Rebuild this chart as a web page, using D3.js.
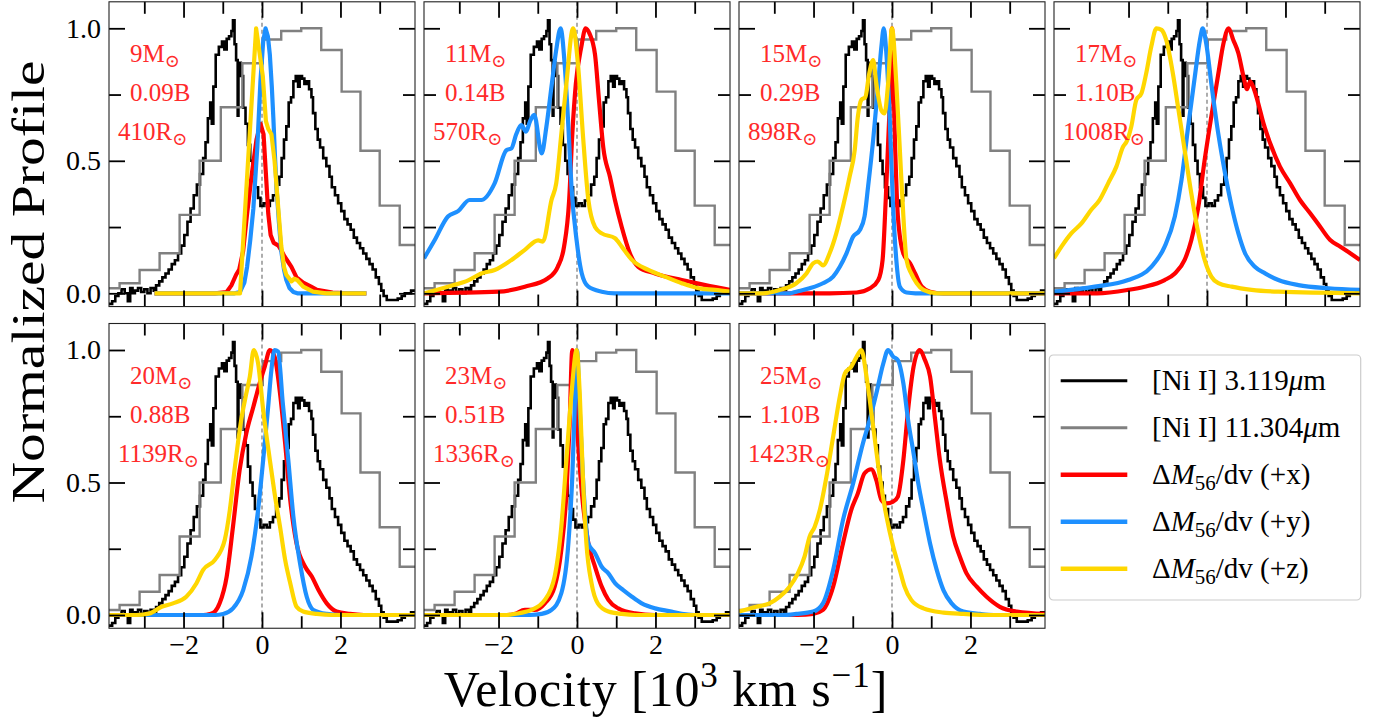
<!DOCTYPE html>
<html>
<head>
<meta charset="utf-8">
<script src="https://cdn.jsdelivr.net/npm/d3@7"></script>
<style>
  body { margin: 0; background: #fff; }
  svg { display: block; }
  text { font-family: "Liberation Serif", "DejaVu Serif", serif; }
</style>
</head>
<body>
<svg id="fig" width="1382" height="722"></svg>
<script>
// ---- axis ticks ----
const velMajor = [-2, 0, 2];
const velMinor = [-3, -1, 1, 3];
const velLabels = ["\u22122", "0", "2"];
const profMajor = [0, 0.5, 1.0];
const profMinor = [0.25, 0.75];
const profLabels = ["0.0", "0.5", "1.0"];

// ---- model annotations ----
const masses = ["9", "11", "15", "17", "20", "23", "25"];
const energies = ["0.09", "0.14", "0.29", "1.10", "0.88", "0.51", "1.10"];
const radii = ["410", "570", "898", "1008", "1139", "1336", "1423"];

// ---- observed [Ni I] 3.119 um profile (step, left bin edges) ----
const ni3Vel = [-3.9,-3.82,-3.74,-3.66,-3.58,-3.5,-3.42,-3.36,-3.3,-3.24,-3.16,-3.08,-3.0,-2.92,-2.84,-2.76,-2.7,-2.62,-2.54,-2.46,-2.38,-2.3,-2.22,-2.14,-2.06,-1.98,-1.9,-1.82,-1.74,-1.66,-1.58,-1.5,-1.44,-1.38,-1.32,-1.28,-1.24,-1.18,-1.1,-1.02,-0.96,-0.9,-0.84,-0.78,-0.74,-0.7,-0.66,-0.62,-0.6,-0.54,-0.48,-0.42,-0.36,-0.3,-0.24,-0.18,-0.1,-0.04,0.04,0.12,0.2,0.28,0.36,0.44,0.5,0.56,0.62,0.68,0.74,0.8,0.86,0.92,0.96,1.02,1.08,1.14,1.2,1.26,1.3,1.36,1.42,1.48,1.56,1.64,1.72,1.78,1.86,1.94,2.02,2.1,2.18,2.26,2.34,2.42,2.5,2.58,2.66,2.74,2.82,2.9,2.98,3.04,3.1,3.18,3.46,3.56,3.64,3.8,3.9];
const ni3Flux = [-0.04,-0.03,-0.01,0.0,0.015,0.0,-0.03,0.02,0.0,0.01,0.02,0.005,0.015,0.0,0.02,0.01,0.03,0.045,0.06,0.075,0.09,0.11,0.125,0.15,0.18,0.22,0.27,0.32,0.37,0.41,0.45,0.51,0.57,0.66,0.72,0.64,0.78,0.9,0.93,0.95,0.92,0.96,0.97,0.99,1.03,0.94,0.88,0.67,0.87,0.82,0.7,0.64,0.56,0.5,0.45,0.4,0.36,0.33,0.34,0.33,0.35,0.37,0.41,0.44,0.51,0.58,0.63,0.72,0.74,0.8,0.82,0.78,0.82,0.81,0.79,0.8,0.77,0.74,0.68,0.62,0.58,0.55,0.51,0.48,0.44,0.4,0.37,0.34,0.31,0.28,0.26,0.24,0.21,0.19,0.17,0.15,0.13,0.11,0.09,0.06,0.035,0.01,-0.01,-0.025,-0.02,-0.01,0.0,0.01,0.01];

// ---- observed [Ni I] 11.304 um profile (coarse step) ----
const ni11Vel = [-3.9,-3.63,-3.12,-2.61,-2.1,-1.59,-1.05,-0.5,0.02,0.49,1.0,1.51,2.03,2.51,3.0,3.51,3.9];
const ni11Flux = [0.019,0.038,0.088,0.151,0.296,0.5,0.702,0.868,0.958,0.99,1.0,0.918,0.761,0.538,0.331,0.182,0.182];

// ---- model dM56/dv profiles: [velocity, normalized value] ----
const m09x = [[-2.74,0],[-1.2,0],[-0.9,0.005],[-0.78,0.03],[-0.66,0.07],[-0.58,0.09],[-0.48,0.16],[-0.38,0.3],[-0.26,0.45],[-0.14,0.58],[-0.04,0.64],[0.04,0.6],[0.1,0.45],[0.16,0.3],[0.22,0.22],[0.3,0.19],[0.42,0.18],[0.5,0.16],[0.57,0.14],[0.66,0.12],[0.75,0.1],[0.88,0.06],[1.05,0.04],[1.25,0.025],[1.4,0.013],[1.8,0.003],[2.2,0],[2.66,0]];
const m09y = [[-2.74,0],[-0.7,0],[-0.56,0.005],[-0.45,0.04],[-0.38,0.1],[-0.3,0.2],[-0.22,0.32],[-0.12,0.55],[-0.04,0.8],[0.03,0.95],[0.09,1.0],[0.15,0.97],[0.2,0.9],[0.25,0.78],[0.29,0.66],[0.33,0.52],[0.37,0.4],[0.43,0.27],[0.49,0.16],[0.56,0.09],[0.62,0.05],[0.7,0.02],[0.8,0.005],[0.9,0],[2.66,0]];
const m09z = [[-2.74,0],[-0.56,0],[-0.15,1.0],[0.02,0.82],[0.1,0.65],[0.16,0.62],[0.24,0.6],[0.32,0.5],[0.41,0.33],[0.49,0.18],[0.56,0.1],[0.62,0.07],[0.75,0.045],[0.82,0.055],[0.9,0.05],[1.05,0.025],[1.3,0.006],[1.64,0],[2.66,0]];

const m11x = [[-3.9,0],[-2.0,0.006],[-1.33,0.025],[-0.74,0.057],[-0.49,0.1],[-0.33,0.176],[-0.2,0.352],[-0.12,0.6],[-0.03,0.79],[0.11,0.93],[0.22,1.0],[0.32,0.98],[0.46,0.9],[0.56,0.73],[0.67,0.55],[0.84,0.44],[0.97,0.35],[1.14,0.25],[1.35,0.15],[1.56,0.1],[1.99,0.075],[2.67,0.05],[3.27,0.031],[3.9,0.013]];
const m11y = [[-3.9,0.132],[-3.63,0.2],[-3.29,0.29],[-3.03,0.31],[-2.74,0.352],[-2.44,0.352],[-2.1,0.415],[-1.8,0.54],[-1.67,0.547],[-1.55,0.6],[-1.42,0.635],[-1.3,0.61],[-1.2,0.648],[-1.09,0.673],[-0.9,0.528],[-0.78,0.629],[-0.65,0.78],[-0.53,0.918],[-0.42,1.0],[-0.31,0.855],[-0.22,0.63],[-0.14,0.4],[-0.01,0.2],[0.12,0.076],[0.29,0.025],[0.63,0.006],[0.97,0],[3.9,0]];
const m11z = [[-3.9,0],[-3.29,0.025],[-2.76,0.05],[-2.44,0.075],[-2.1,0.088],[-1.67,0.126],[-1.33,0.164],[-0.99,0.2],[-0.87,0.195],[-0.65,0.352],[-0.53,0.415],[-0.4,0.6],[-0.27,0.792],[-0.1,1.0],[0.03,0.855],[0.15,0.6],[0.29,0.352],[0.46,0.25],[0.63,0.226],[0.97,0.208],[1.14,0.176],[1.4,0.126],[1.82,0.088],[2.24,0.063],[2.67,0.038],[3.1,0.019],[3.52,0.013],[3.9,0.006]];

const m15x = [[-3.9,0],[-1.59,0],[-0.9,0.003],[-0.56,0.019],[-0.35,0.05],[-0.24,0.126],[-0.16,0.352],[-0.07,0.667],[0.0,1.0],[0.07,0.6],[0.15,0.29],[0.29,0.15],[0.46,0.113],[0.59,0.075],[0.76,0.025],[0.97,0.006],[1.3,0],[3.9,0]];
const m15y = [[-3.9,0],[-2.6,0],[-2.44,0.006],[-2.1,0.019],[-1.76,0.038],[-1.5,0.063],[-1.33,0.1],[-1.16,0.151],[-0.99,0.214],[-0.82,0.239],[-0.7,0.29],[-0.61,0.402],[-0.48,0.579],[-0.35,0.792],[-0.27,0.931],[-0.21,1.0],[-0.15,0.918],[-0.06,0.667],[0.02,0.352],[0.11,0.126],[0.2,0.025],[0.37,0.003],[0.6,0],[3.9,0]];
const m15z = [[-3.9,0],[-3.29,0],[-2.86,0.013],[-2.44,0.038],[-2.18,0.075],[-2.01,0.113],[-1.89,0.12],[-1.76,0.105],[-1.59,0.151],[-1.42,0.226],[-1.25,0.327],[-1.08,0.44],[-0.95,0.541],[-0.87,0.667],[-0.78,0.73],[-0.68,0.74],[-0.58,0.83],[-0.48,0.88],[-0.4,0.792],[-0.27,0.69],[-0.19,0.679],[-0.1,0.79],[0.0,1.0],[0.11,0.792],[0.2,0.541],[0.29,0.29],[0.37,0.126],[0.49,0.075],[0.63,0.038],[0.8,0.013],[1.14,0],[3.9,0]];

const m17x = [[-3.9,0],[-2.8,0],[-2.01,0.013],[-1.59,0.025],[-1.08,0.05],[-0.82,0.075],[-0.57,0.126],[-0.4,0.2],[-0.22,0.327],[-0.06,0.503],[0.11,0.667],[0.29,0.83],[0.42,0.943],[0.55,1.0],[0.67,0.956],[0.8,0.906],[0.93,0.818],[1.02,0.77],[1.1,0.8],[1.2,0.77],[1.3,0.72],[1.44,0.641],[1.61,0.566],[1.86,0.478],[2.12,0.415],[2.37,0.352],[2.63,0.302],[2.88,0.252],[3.14,0.201],[3.4,0.176],[3.65,0.151],[3.9,0.126]];
const m17y = [[-3.9,0.006],[-2.86,0.025],[-2.01,0.05],[-1.42,0.1],[-1.08,0.176],[-0.82,0.29],[-0.65,0.428],[-0.48,0.629],[-0.31,0.818],[-0.18,0.956],[-0.11,1.0],[-0.02,0.943],[0.11,0.792],[0.29,0.6],[0.46,0.453],[0.63,0.327],[0.8,0.226],[0.97,0.151],[1.22,0.1],[1.48,0.075],[1.82,0.05],[2.33,0.031],[3.1,0.019],[3.9,0.013]];
const m17z = [[-3.9,0.132],[-3.71,0.176],[-3.46,0.226],[-3.2,0.264],[-2.95,0.315],[-2.74,0.352],[-2.52,0.415],[-2.31,0.478],[-2.14,0.553],[-2.05,0.572],[-1.93,0.629],[-1.8,0.73],[-1.67,0.755],[-1.55,0.83],[-1.42,0.931],[-1.29,1.0],[-1.16,0.994],[-1.04,0.956],[-0.87,0.83],[-0.74,0.705],[-0.57,0.541],[-0.4,0.377],[-0.22,0.226],[-0.06,0.126],[0.11,0.063],[0.29,0.038],[0.63,0.025],[1.14,0.013],[1.82,0.006],[3.9,0]];

const m20x = [[-3.9,0],[-1.5,0],[-1.33,0.004],[-1.2,0.013],[-1.08,0.044],[-0.9,0.145],[-0.74,0.333],[-0.57,0.547],[-0.4,0.686],[-0.22,0.786],[-0.06,0.874],[0.07,0.937],[0.2,1.0],[0.32,0.975],[0.46,0.836],[0.59,0.648],[0.72,0.434],[0.88,0.27],[1.1,0.182],[1.27,0.145],[1.44,0.094],[1.65,0.044],[1.9,0.013],[2.24,0.004],[2.6,0],[3.9,0]];
const m20y = [[-3.9,0],[-1.2,0],[-0.99,0.004],[-0.74,0.025],[-0.48,0.094],[-0.27,0.22],[-0.1,0.396],[0.03,0.585],[0.15,0.774],[0.24,0.925],[0.32,1.0],[0.41,0.994],[0.53,0.799],[0.67,0.585],[0.8,0.371],[0.97,0.195],[1.14,0.069],[1.31,0.019],[1.65,0.004],[2.0,0],[3.9,0]];
const m20z = [[-3.9,0],[-3.2,0],[-2.86,0.006],[-2.56,0.031],[-2.27,0.044],[-1.93,0.069],[-1.67,0.12],[-1.5,0.17],[-1.2,0.208],[-0.95,0.283],[-0.82,0.396],[-0.69,0.56],[-0.53,0.736],[-0.4,0.836],[-0.31,0.9],[-0.21,1.0],[-0.1,0.95],[0.03,0.774],[0.2,0.585],[0.32,0.46],[0.46,0.333],[0.59,0.208],[0.72,0.12],[0.88,0.031],[1.05,0.013],[1.4,0.004],[1.8,0],[3.9,0]];

const m23x = [[-3.9,0],[-1.8,0],[-1.59,0.004],[-1.33,0.019],[-1.08,0.019],[-0.82,0.044],[-0.57,0.107],[-0.4,0.245],[-0.27,0.459],[-0.19,0.711],[-0.12,1.0],[-0.06,0.9],[0.03,0.648],[0.15,0.421],[0.29,0.27],[0.46,0.182],[0.63,0.107],[0.8,0.057],[1.05,0.025],[1.48,0.006],[1.99,0],[3.9,0]];
const m23y = [[-3.9,0],[-1.2,0],[-0.9,0.004],[-0.65,0.019],[-0.4,0.082],[-0.22,0.27],[-0.12,0.522],[-0.06,0.774],[0.0,1.0],[0.07,0.774],[0.15,0.522],[0.29,0.27],[0.46,0.233],[0.63,0.182],[0.8,0.157],[0.97,0.12],[1.18,0.094],[1.4,0.069],[1.65,0.044],[1.99,0.025],[2.41,0.013],[2.67,0.004],[3.0,0],[3.9,0]];
const m23z = [[-3.9,0],[-1.8,0],[-1.59,0.004],[-1.16,0.019],[-0.82,0.057],[-0.57,0.145],[-0.4,0.333],[-0.27,0.585],[-0.14,0.836],[-0.01,1.0],[0.07,0.836],[0.15,0.522],[0.24,0.27],[0.37,0.12],[0.53,0.044],[0.8,0.013],[1.14,0.004],[1.5,0],[3.9,0]];

const m25x = [[-3.9,0],[-2.4,0],[-2.01,0.004],[-1.76,0.019],[-1.5,0.107],[-1.25,0.27],[-1.04,0.396],[-0.87,0.459],[-0.7,0.535],[-0.53,0.55],[-0.4,0.509],[-0.27,0.434],[-0.14,0.421],[0.03,0.428],[0.15,0.447],[0.29,0.585],[0.41,0.774],[0.55,0.937],[0.7,1.0],[0.84,0.962],[0.97,0.9],[1.1,0.736],[1.22,0.585],[1.4,0.421],[1.56,0.296],[1.73,0.22],[1.9,0.157],[2.16,0.107],[2.41,0.069],[2.75,0.031],[3.18,0.013],[3.9,0.004]];
const m25y = [[-3.9,0],[-2.8,0],[-2.44,0.004],[-2.01,0.013],[-1.76,0.044],[-1.5,0.17],[-1.25,0.358],[-0.99,0.497],[-0.74,0.648],[-0.57,0.736],[-0.4,0.836],[-0.22,0.95],[-0.1,1.0],[0.03,0.975],[0.15,0.962],[0.29,0.874],[0.41,0.736],[0.55,0.61],[0.67,0.497],[0.8,0.396],[0.97,0.27],[1.14,0.17],[1.31,0.094],[1.52,0.044],[1.82,0.013],[2.24,0.004],[2.6,0],[3.9,0]];
const m25z = [[-3.9,0.013],[-3.46,0.031],[-3.12,0.044],[-2.86,0.069],[-2.61,0.107],[-2.4,0.157],[-2.23,0.22],[-2.1,0.296],[-1.97,0.333],[-1.84,0.396],[-1.67,0.522],[-1.5,0.673],[-1.33,0.824],[-1.2,0.912],[-1.04,0.937],[-0.9,0.975],[-0.78,1.0],[-0.65,0.9],[-0.48,0.711],[-0.31,0.522],[-0.14,0.371],[0.03,0.258],[0.2,0.17],[0.32,0.107],[0.49,0.057],[0.8,0.025],[1.31,0.009],[1.82,0.004],[2.5,0],[3.9,0]];

const modelX = [m09x, m11x, m15x, m17x, m20x, m23x, m25x];
const modelY = [m09y, m11y, m15y, m17y, m20y, m23y, m25y];
const modelZ = [m09z, m11z, m15z, m17z, m20z, m23z, m25z];

const legendLabels = ["[Ni I] 3.119", "[Ni I] 11.304", "(+x)", "(+y)", "(+z)"];

// ---- layout ----
const fig = d3.select("#fig");
const colLeft = [109, 424, 739, 1054];
const rowTop = [1.8, 323.5];
const PW = 306, PH = 304.75;
const COL = { black: "#000000", gray: "#808080", x: "#ff0000", y: "#1e90ff", z: "#ffd700" };
const TICK_FS = 28;

const xs = d3.scaleLinear().domain([-3.9, 3.9]).range([0, PW]);
const ys = d3.scaleLinear().domain([-0.05, 1.1]).range([PH, 0]);

const stepLine = d3.line().x(d => xs(d[0])).y(d => ys(d[1])).curve(d3.curveStepAfter);
const smoothLine = d3.line().x(d => xs(d[0])).y(d => ys(d[1])).curve(d3.curveMonotoneX);
const straightLine = d3.line().x(d => xs(d[0])).y(d => ys(d[1])).curve(d3.curveLinear);

const ni3 = ni3Vel.map((v, i) => [v, ni3Flux[i]]);
const ni11 = ni11Vel.map((v, i) => [v, ni11Flux[i]]);

function styleAxis(g, size) {
  g.select(".domain").remove();
  g.selectAll(".tick line").attr("stroke", "#000").attr("stroke-width", 1.8);
  g.attr("font-family", null).attr("font-size", null);
  g.selectAll("text").attr("font-size", size).attr("fill", "#000");
}

masses.forEach((mass, i) => {
  const row = i < 4 ? 0 : 1;
  const col = i % 4;
  const g = fig.append("g").attr("transform", `translate(${colLeft[col]},${rowTop[row]})`);
  const clipId = `clip${i}`;
  g.append("clipPath").attr("id", clipId).append("rect").attr("width", PW).attr("height", PH);
  const plot = g.append("g").attr("clip-path", `url(#${clipId})`);

  // zero-velocity guide
  plot.append("line")
    .attr("x1", xs(0)).attr("x2", xs(0)).attr("y1", 0).attr("y2", PH)
    .attr("stroke", "#808080").attr("stroke-width", 1.3).attr("stroke-dasharray", "4,3");

  plot.append("path").datum(ni3).attr("d", stepLine)
    .attr("fill", "none").attr("stroke", COL.black).attr("stroke-width", 2.6);
  plot.append("path").datum(ni11).attr("d", stepLine)
    .attr("fill", "none").attr("stroke", COL.gray).attr("stroke-width", 2.4);

  const gen = i === 0 ? straightLine : smoothLine;
  [[modelX[i], COL.x], [modelY[i], COL.y], [modelZ[i], COL.z]].forEach(([d, c]) => {
    plot.append("path").datum(d).attr("d", gen)
      .attr("fill", "none").attr("stroke", c).attr("stroke-width", 4.2)
      .attr("stroke-linejoin", "round").attr("stroke-linecap", "butt");
  });

  // model annotations
  const ann = g.append("g").attr("fill", "#ff2a2a").attr("font-size", 25);
  const t1 = ann.append("text").attr("x", 21).attr("y", 60.5);
  t1.append("tspan").text(mass + "M");
  t1.append("tspan").attr("font-size", 18).attr("dy", 5).text("\u2299");
  ann.append("text").attr("x", 21).attr("y", 99.7).text(energies[i] + "B");
  const t3 = ann.append("text").attr("x", 9).attr("y", 138.5);
  t3.append("tspan").text(radii[i] + "R");
  t3.append("tspan").attr("font-size", 18).attr("dy", 5).text("\u2299");

  // ticks on all four sides, pointing inward
  const showX = row === 1;
  const showY = col === 0;
  const fmtX = d => velLabels[velMajor.indexOf(d)];
  const fmtY = d => profLabels[profMajor.indexOf(d)];

  g.append("g").attr("transform", `translate(0,${PH})`)
    .call(d3.axisBottom(xs).tickValues(velMajor).tickSize(-16).tickPadding(6).tickFormat(showX ? fmtX : () => ""))
    .call(a => styleAxis(a, TICK_FS));
  g.append("g").attr("transform", `translate(0,${PH})`)
    .call(d3.axisBottom(xs).tickValues(velMinor).tickSize(-12).tickFormat(() => ""))
    .call(a => styleAxis(a, TICK_FS));
  g.append("g")
    .call(d3.axisTop(xs).tickValues(velMajor).tickSize(-16).tickFormat(() => ""))
    .call(a => styleAxis(a, TICK_FS));
  g.append("g")
    .call(d3.axisTop(xs).tickValues(velMinor).tickSize(-12).tickFormat(() => ""))
    .call(a => styleAxis(a, TICK_FS));
  g.append("g")
    .call(d3.axisLeft(ys).tickValues(profMajor).tickSize(-16).tickPadding(8).tickFormat(showY ? fmtY : () => ""))
    .call(a => styleAxis(a, TICK_FS));
  g.append("g")
    .call(d3.axisLeft(ys).tickValues(profMinor).tickSize(-12).tickFormat(() => ""))
    .call(a => styleAxis(a, TICK_FS));
  g.append("g").attr("transform", `translate(${PW},0)`)
    .call(d3.axisRight(ys).tickValues(profMajor).tickSize(-16).tickFormat(() => ""))
    .call(a => styleAxis(a, TICK_FS));
  g.append("g").attr("transform", `translate(${PW},0)`)
    .call(d3.axisRight(ys).tickValues(profMinor).tickSize(-12).tickFormat(() => ""))
    .call(a => styleAxis(a, TICK_FS));

  g.append("rect").attr("width", PW).attr("height", PH)
    .attr("fill", "none").attr("stroke", "#222").attr("stroke-width", 1.1);
});

// ---- axis titles ----
const xt = fig.append("text").attr("x", 666).attr("y", 706).attr("text-anchor", "middle")
  .attr("font-size", 50).attr("letter-spacing", 0.9);
xt.append("tspan").text("Velocity [10");
xt.append("tspan").attr("font-size", 35).attr("dy", -19).text("3");
xt.append("tspan").attr("dy", 19).text(" km s");
xt.append("tspan").attr("font-size", 35).attr("dy", -19).text("\u22121");
xt.append("tspan").attr("dy", 19).text("]");

fig.append("text").attr("transform", "translate(44,282) rotate(-90)")
  .attr("text-anchor", "middle").attr("font-size", 47)
  .attr("textLength", 443).attr("lengthAdjust", "spacingAndGlyphs")
  .text("Normalized Profile");

// ---- legend ----
const lg = fig.append("g").attr("transform", "translate(1049.3,355)");
lg.append("rect").attr("width", 311.4).attr("height", 245).attr("rx", 4)
  .attr("fill", "#fff").attr("stroke", "#cccccc").attr("stroke-width", 1.2);
const legendStyle = [[COL.black, 3], [COL.gray, 3], [COL.x, 4.5], [COL.y, 4.5], [COL.z, 4.5]];
legendLabels.forEach((lab, k) => {
  const cy = 25.7 + k * 47;
  lg.append("line").attr("x1", 11.4).attr("x2", 78).attr("y1", cy).attr("y2", cy)
    .attr("stroke", legendStyle[k][0]).attr("stroke-width", legendStyle[k][1]);
  const t = lg.append("text").attr("x", 102.7).attr("y", cy + 9).attr("font-size", 29);
  if (k < 2) {
    t.append("tspan").text(lab);
    t.append("tspan").attr("font-style", "italic").text("\u03bc");
    t.append("tspan").text("m");
  } else {
    t.append("tspan").text("\u0394");
    t.append("tspan").attr("font-style", "italic").text("M");
    t.append("tspan").attr("font-size", 21).attr("dy", 6).text("56");
    t.append("tspan").attr("dy", -6).text("/dv " + lab);
  }
});
</script>
</body>
</html>
